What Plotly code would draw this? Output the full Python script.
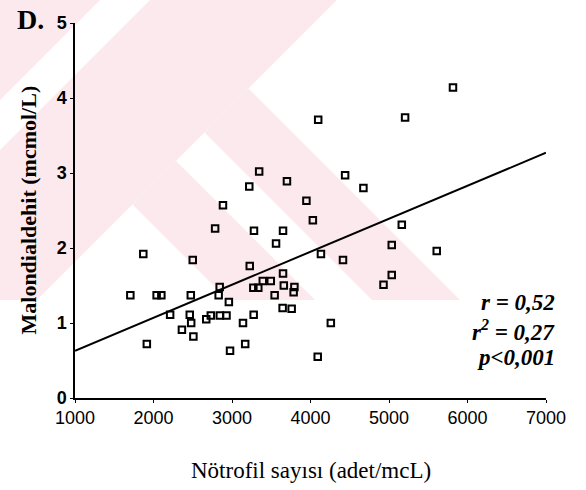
import plotly.graph_objects as go

# Neutrophil count (cells/mcL) and malondialdehyde (mcmol/L) per subject
neutrophil = [1705, 1870, 1915, 2040, 2100, 2212, 2362, 2462, 2475, 2480,
              2500, 2508, 2672, 2730, 2785, 2830, 2843, 2845, 2885, 2930,
              2960, 2975, 3140, 3168, 3220, 3226, 3272, 3276, 3280, 3335,
              3346, 3392, 3494, 3543, 3561, 3650, 3650, 3660, 3645, 3700,
              3760, 3785, 3795, 3948, 4030, 4098, 4092, 4133, 4259, 4414,
              4441, 4674, 4930, 5035, 5035, 5163, 5205, 5608, 5815]
mda = [1.37, 1.92, 0.72, 1.37, 1.37, 1.11, 0.91, 1.11, 1.37, 1.00,
       1.84, 0.82, 1.05, 1.10, 2.26, 1.37, 1.48, 1.10, 2.57, 1.10,
       1.28, 0.63, 1.00, 0.72, 2.82, 1.76, 1.47, 1.11, 2.23, 1.47,
       3.02, 1.56, 1.56, 1.37, 2.06, 1.66, 2.23, 1.50, 1.20, 2.89,
       1.19, 1.41, 1.48, 2.63, 2.37, 3.71, 0.55, 1.92, 1.00, 1.84,
       2.97, 2.80, 1.51, 1.64, 2.04, 2.31, 3.74, 1.96, 4.14]

# Regression line end points
fit_x = [1000, 7000]
fit_y = [0.63, 3.27]

x_ticks = [1000, 2000, 3000, 4000, 5000, 6000, 7000]
y_ticks = [0, 1, 2, 3, 4, 5]

W, H = 586, 490
ML, MR, MT, MB = 75, 40, 23, 92
PW, PH = W - ML - MR, H - MT - MB


def px(x):
    return (x - ML) / PW


def py(y):
    return (H - MB - y) / PH


def poly(points):
    return "M " + " L ".join(f"{px(a):.4f},{py(b):.4f}" for a, b in points) + " Z"


# Pale background emblem (pixel polygons)
pink = "#fce9ed"
emblem = [
    [(0, 0), (100, 0), (0, 100)],
    [(150, 0), (337, 0), (37, 300), (0, 300), (0, 150)],
    [(132.5, 204.5), (176, 161), (315, 300), (228, 300)],
    [(204.5, 132.5), (248.5, 88.5), (460, 300), (372, 300)],
]
shapes = [dict(type="path", path=poly(p), xref="paper", yref="paper",
               fillcolor=pink, line=dict(width=0), layer="below")
          for p in emblem]

fig = go.Figure()
fig.add_trace(go.Scatter(
    x=neutrophil, y=mda, mode="markers",
    marker=dict(symbol="square-open", size=6.5, color="black",
                line=dict(color="black", width=2)),
    showlegend=False, cliponaxis=False))
fig.add_trace(go.Scatter(
    x=fit_x, y=fit_y, mode="lines",
    line=dict(color="black", width=2), showlegend=False))

serif = "Liberation Serif, Times New Roman, serif"
annotations = [
    dict(text="D.", x=px(15), y=py(19), xanchor="left", yanchor="middle",
         font=dict(family=serif, size=28, color="black", weight="bold")),
    dict(text="Malondialdehit (mcmol/L)", x=px(28), y=0.5, textangle=-90,
         xanchor="center", yanchor="middle",
         font=dict(family=serif, size=22, color="black", weight="bold")),
    dict(text="Nötrofil sayısı (adet/mcL)", x=0.5, y=py(470),
         xanchor="center", yanchor="middle",
         font=dict(family=serif, size=23, color="black")),
    dict(text="r = 0,52", x=px(557), y=py(302), xanchor="right", yanchor="middle",
         font=dict(family=serif, size=23, color="black", weight="bold", style="italic")),
    dict(text="r<sup>2</sup> = 0,27", x=px(557), y=py(330), xanchor="right", yanchor="middle",
         font=dict(family=serif, size=23, color="black", weight="bold", style="italic")),
    dict(text="p&lt;0,001", x=px(557), y=py(357), xanchor="right", yanchor="middle",
         font=dict(family=serif, size=23, color="black", weight="bold", style="italic")),
]
for a in annotations:
    a.update(xref="paper", yref="paper", showarrow=False)

fig.update_layout(
    width=W, height=H,
    margin=dict(l=ML, r=MR, t=MT, b=MB),
    paper_bgcolor="white", plot_bgcolor="rgba(0,0,0,0)",
    shapes=shapes, annotations=annotations,
    xaxis=dict(range=[1000, 7000], tickvals=x_ticks, showgrid=False, zeroline=False,
               showline=True, linecolor="black", linewidth=1.5,
               ticks="outside", ticklen=3, tickcolor="black",
               tickfont=dict(family="Liberation Sans, Arial", size=18, color="black")),
    yaxis=dict(range=[0, 5], tickvals=y_ticks, showgrid=False, zeroline=False,
               showline=True, linecolor="black", linewidth=1.5,
               ticks="outside", ticklen=3, tickcolor="black",
               tickfont=dict(family="Liberation Sans, Arial", size=18, color="black",
                             weight="bold")),
)

fig.write_html("out.html")
